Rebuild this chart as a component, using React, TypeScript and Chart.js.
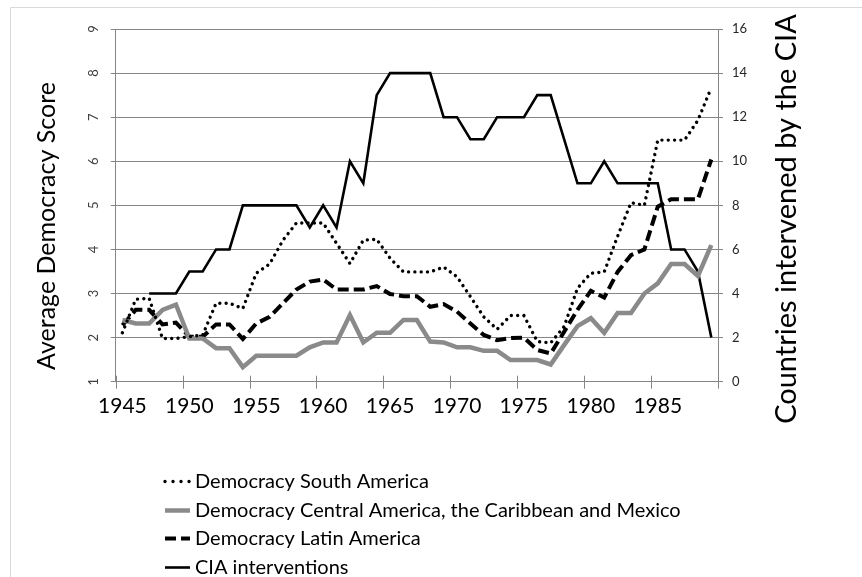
import React, { useEffect, useRef } from "react";
import { Chart, registerables } from "chart.js";

Chart.register(...registerables);

// ---------- data ----------
const years = [
  "1945", "1946", "1947", "1948", "1949", "1950", "1951", "1952", "1953", "1954",
  "1955", "1956", "1957", "1958", "1959", "1960", "1961", "1962", "1963", "1964",
  "1965", "1966", "1967", "1968", "1969", "1970", "1971", "1972", "1973", "1974",
  "1975", "1976", "1977", "1978", "1979", "1980", "1981", "1982", "1983", "1984",
  "1985", "1986", "1987", "1988", "1989",
];
const xTickLabels = ["1945", "1950", "1955", "1960", "1965", "1970", "1975", "1980", "1985"];
const democracyTicks = [1, 2, 3, 4, 5, 6, 7, 8, 9];
const ciaTicks = [0, 2, 4, 6, 8, 10, 12, 14, 16];

const southAmerica = [
  2.11, 2.87, 2.89, 1.98, 1.98, 2.02, 2.06, 2.78, 2.78, 2.66,
  3.46, 3.67, 4.21, 4.6, 4.6, 4.6, 4.14, 3.68, 4.21, 4.23,
  3.8, 3.49, 3.49, 3.49, 3.6, 3.38, 2.93, 2.47, 2.19, 2.5,
  2.5, 1.91, 1.88, 2.25, 3.12, 3.46, 3.49, 4.3, 5.06, 5.0,
  6.48, 6.48, 6.48, 6.93, 7.67,
];
const centralAmerica = [
  2.4, 2.32, 2.32, 2.63, 2.75, 1.98, 1.98, 1.76, 1.76, 1.33,
  1.59, 1.59, 1.59, 1.59, 1.78, 1.89, 1.89, 2.51, 1.89, 2.11,
  2.11, 2.4, 2.4, 1.91, 1.89, 1.78, 1.78, 1.7, 1.7, 1.49,
  1.49, 1.49, 1.39, 1.83, 2.26, 2.44, 2.11, 2.56, 2.56, 3.0,
  3.23, 3.67, 3.67, 3.4, 4.1,
];
const latinAmerica = [
  2.28, 2.63, 2.63, 2.3, 2.34, 2.02, 2.02, 2.3, 2.3, 1.97,
  2.32, 2.47, 2.78, 3.09, 3.27, 3.32, 3.09, 3.09, 3.09, 3.17,
  2.99, 2.94, 2.94, 2.7, 2.76, 2.59, 2.32, 2.06, 1.94, 1.99,
  2.0, 1.72, 1.64, 2.13, 2.63, 3.06, 2.91, 3.49, 3.87, 4.0,
  4.97, 5.14, 5.14, 5.14, 6.04,
];
const ciaInterventions = [
  null, null, 4, 4, 4, 5, 5, 6, 6, 8,
  8, 8, 8, 8, 7, 8, 7, 10, 9, 13,
  14, 14, 14, 14, 12, 12, 11, 11, 12, 12,
  12, 13, 13, 11, 9, 9, 10, 9, 9, 9,
  9, 6, 6, 5, 2,
];

const leftTitle = "Average Democracy Score";
const rightTitle = "Countries intervened by the CIA";

// ---------- style ----------
const FONT = "Lato, Carlito, Calibri, 'Liberation Sans', sans-serif";
const AXIS_GRAY = "#868686";

const framePlugin = {
  id: "frame",
  beforeDraw(chart: any) {
    const ctx = chart.ctx;
    ctx.save();
    ctx.fillStyle = "#ffffff";
    ctx.fillRect(0, 0, chart.width, chart.height);
    ctx.strokeStyle = "#d9d9d9";
    ctx.lineWidth = 1;
    ctx.beginPath();
    ctx.moveTo(10.5, chart.height);
    ctx.lineTo(10.5, 7.5);
    ctx.lineTo(chart.width, 7.5);
    ctx.stroke();
    ctx.restore();
  },
};

const crossTicksPlugin = {
  id: "crossTicks",
  beforeDatasetsDraw(chart: any) {
    const xs = chart.scales.x;
    const bottom = chart.chartArea.bottom;
    const ctx = chart.ctx;
    ctx.save();
    ctx.strokeStyle = AXIS_GRAY;
    ctx.lineWidth = 1;
    for (let i = 0; i <= years.length; i += 5) {
      const px = Math.round(xs.getPixelForValue(i - 0.5)) + 0.5;
      ctx.beginPath();
      ctx.moveTo(px, bottom - 6);
      ctx.lineTo(px, bottom + 7);
      ctx.stroke();
    }
    ctx.restore();
  },
};

const titlesPlugin = {
  id: "axisTitles",
  afterDraw(chart: any) {
    const ctx = chart.ctx;
    ctx.save();
    ctx.fillStyle = "#000000";
    ctx.textAlign = "center";
    ctx.textBaseline = "middle";
    ctx.font = `25px ${FONT}`;
    ctx.translate(47, 226);
    ctx.rotate(-Math.PI / 2);
    ctx.fillText(leftTitle, 0, 0);
    ctx.restore();

    ctx.save();
    ctx.fillStyle = "#000000";
    ctx.textAlign = "center";
    ctx.textBaseline = "middle";
    ctx.font = `29px ${FONT}`;
    ctx.translate(787, 219);
    ctx.rotate(-Math.PI / 2);
    ctx.fillText(rightTitle, 0, 0);
    ctx.restore();
  },
};

const legendPlugin = {
  id: "stackedLegend",
  afterDraw(chart: any) {
    const ctx = chart.ctx;
    const rowTop = 481;
    const rowStep = 28.7;
    const markerX0 = 165;
    const markerX1 = 190;
    chart.data.datasets.forEach((ds: any, i: number) => {
      const y = Math.round(rowTop + i * rowStep) + 0.5;
      ctx.save();
      ctx.strokeStyle = ds.borderColor;
      ctx.lineWidth = ds.borderWidth;
      ctx.lineCap = ds.borderCapStyle || "butt";
      const dash = ds.borderDash || [];
      ctx.setLineDash(dash.length && dash[0] < 1 ? [0.01, 8] : dash);
      ctx.beginPath();
      ctx.moveTo(markerX0, y);
      ctx.lineTo(markerX1, y);
      ctx.stroke();
      ctx.restore();

      ctx.save();
      ctx.fillStyle = "#000000";
      ctx.font = `20px ${FONT}`;
      ctx.textAlign = "left";
      ctx.textBaseline = "middle";
      ctx.fillText(ds.label, markerX1 + 5, y);
      ctx.restore();
    });
  },
};

export default function App() {
  const ref = useRef<HTMLCanvasElement | null>(null);

  useEffect(() => {
    const canvas = ref.current;
    if (!canvas) return;
    Chart.defaults.font.family = FONT;

    const chart = new Chart(canvas, {
      type: "line",
      data: {
        labels: years,
        datasets: [
          {
            label: "Democracy South America",
            data: southAmerica,
            yAxisID: "y",
            borderColor: "#000000",
            backgroundColor: "#000000",
            borderWidth: 3.4,
            borderDash: [0.01, 6.3],
            borderCapStyle: "round",
            pointRadius: 0,
            tension: 0,
            fill: false,
          },
          {
            label: "Democracy Central America, the Caribbean and Mexico",
            data: centralAmerica,
            yAxisID: "y",
            borderColor: "#8a8a8a",
            backgroundColor: "#8a8a8a",
            borderWidth: 4.5,
            borderCapStyle: "butt",
            pointRadius: 0,
            tension: 0,
            fill: false,
          },
          {
            label: "Democracy Latin America",
            data: latinAmerica,
            yAxisID: "y",
            borderColor: "#000000",
            backgroundColor: "#000000",
            borderWidth: 4,
            borderDash: [11, 5],
            borderCapStyle: "butt",
            pointRadius: 0,
            tension: 0,
            fill: false,
          },
          {
            label: "CIA interventions",
            data: ciaInterventions,
            yAxisID: "y1",
            borderColor: "#000000",
            backgroundColor: "#000000",
            borderWidth: 2.6,
            borderCapStyle: "butt",
            pointRadius: 0,
            tension: 0,
            fill: false,
          },
        ],
      },
      options: {
        responsive: false,
        animation: false,
        events: [],
        layout: { padding: { left: 0, right: 0, top: 29, bottom: 135 } },
        plugins: {
          legend: { display: false },
          tooltip: { enabled: false },
          title: { display: false },
        },
        scales: {
          x: {
            type: "category",
            offset: true,
            grid: { display: false, drawTicks: false },
            border: { display: true, color: AXIS_GRAY, width: 1 },
            ticks: {
              autoSkip: false,
              maxRotation: 0,
              minRotation: 0,
              padding: 12,
              color: "#000000",
              font: { size: 21, family: FONT },
              callback: function (this: any, value: any) {
                const lab = this.getLabelForValue(value);
                return xTickLabels.includes(lab) ? lab : "";
              },
            },
            afterFit: (s: any) => {
              s.height = 577 - 135 - 381.7;
            },
          },
          y: {
            type: "linear",
            position: "left",
            min: 1,
            max: 9,
            afterBuildTicks: (s: any) => {
              s.ticks = democracyTicks.map((v) => ({ value: v }));
            },
            grid: { color: AXIS_GRAY, lineWidth: 1, tickLength: 5, tickColor: AXIS_GRAY },
            border: { display: true, color: AXIS_GRAY, width: 1 },
            ticks: {
              minRotation: 90,
              maxRotation: 90,
              crossAlign: "center",
              padding: 13,
              color: "#404040",
              font: { size: 13, family: FONT },
            },
            afterFit: (s: any) => {
              s.width = 115.7;
            },
          },
          y1: {
            type: "linear",
            position: "right",
            min: 0,
            max: 16,
            afterBuildTicks: (s: any) => {
              s.ticks = ciaTicks.map((v) => ({ value: v }));
            },
            grid: { drawOnChartArea: false, tickLength: 5, color: AXIS_GRAY, tickColor: AXIS_GRAY },
            border: { display: true, color: AXIS_GRAY, width: 1 },
            ticks: {
              padding: 9,
              color: "#262626",
              font: { size: 13, family: FONT },
            },
            afterFit: (s: any) => {
              s.width = 862 - 718;
            },
          },
        },
      },
      plugins: [framePlugin, crossTicksPlugin, titlesPlugin, legendPlugin],
    } as any);

    return () => {
      chart.destroy();
    };
  }, []);

  return (
    <div
      style={{
        position: "fixed",
        left: 0,
        top: 0,
        width: 862,
        height: 577,
        background: "#ffffff",
        overflow: "hidden",
      }}
    >
      <canvas ref={ref} width={862} height={577} style={{ display: "block", width: 862, height: 577 }} />
    </div>
  );
}
